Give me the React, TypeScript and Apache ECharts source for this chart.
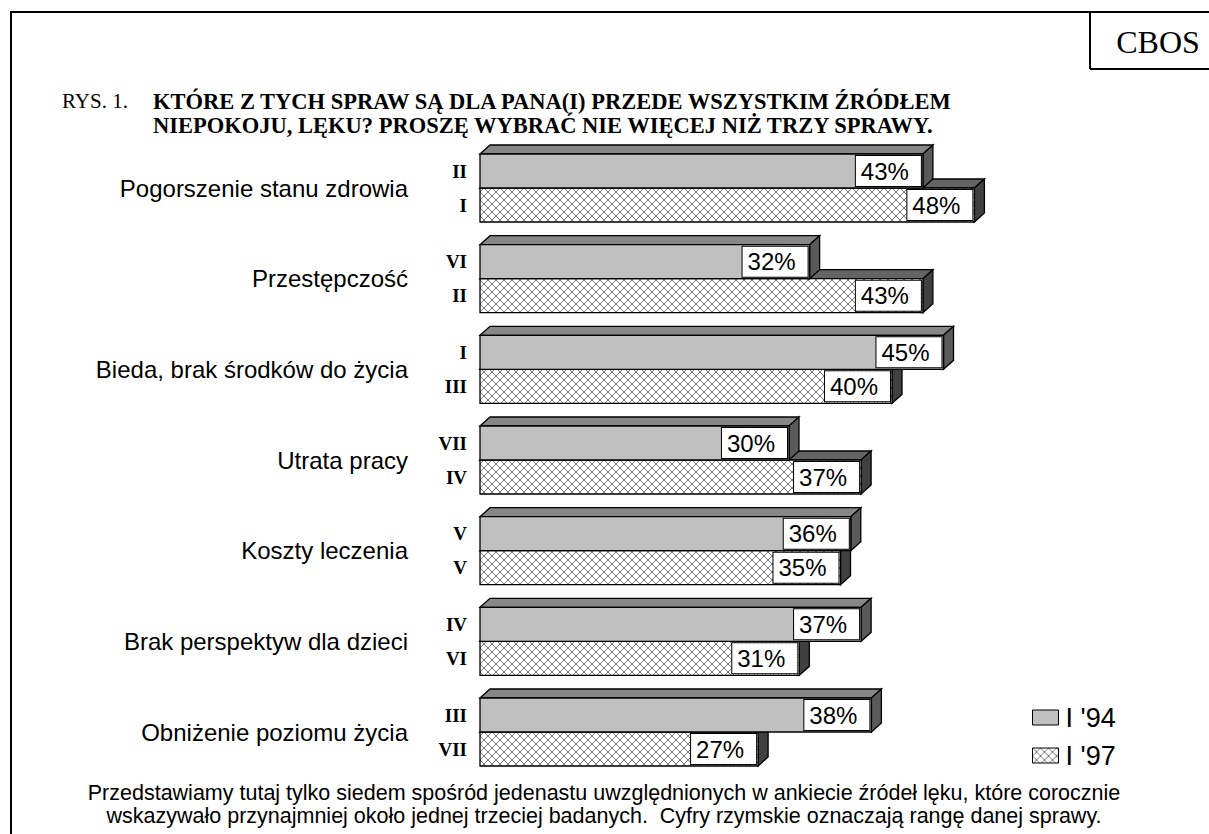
import React, { useEffect, useRef } from "react";
import * as echarts from "echarts";

const categories = [
  "Pogorszenie stanu zdrowia",
  "Przestępczość",
  "Bieda, brak środków do życia",
  "Utrata pracy",
  "Koszty leczenia",
  "Brak perspektyw dla dzieci",
  "Obniżenie poziomu życia",
];
const values94 = [43, 32, 45, 30, 36, 37, 38];
const values97 = [48, 43, 40, 37, 35, 31, 27];
const ranks94 = ["II", "VI", "I", "VII", "V", "IV", "III"];
const ranks97 = ["I", "II", "III", "IV", "V", "VI", "VII"];
const seriesNames = ["I '94", "I '97"];

const titlePrefix = "RYS. 1.";
const titleLines = [
  "KTÓRE Z TYCH SPRAW SĄ DLA PANA(I) PRZEDE WSZYSTKIM ŹRÓDŁEM",
  "NIEPOKOJU, LĘKU? PROSZĘ WYBRAĆ NIE WIĘCEJ NIŻ TRZY SPRAWY.",
];
const footerLines = [
  "Przedstawiamy tutaj tylko siedem spośród jedenastu uwzględnionych w ankiecie źródeł lęku, które corocznie",
  "wskazywało przynajmniej około jednej trzeciej badanych.  Cyfry rzymskie oznaczają rangę danej sprawy.",
];

function makeHatch(): HTMLCanvasElement {
  const c = document.createElement("canvas");
  c.width = 8;
  c.height = 8;
  const ctx = c.getContext("2d")!;
  ctx.fillStyle = "#ffffff";
  ctx.fillRect(0, 0, 8, 8);
  ctx.fillStyle = "#7a7a7a";
  for (let i = 0; i < 8; i++) {
    ctx.fillRect(i, i, 1, 1);
    ctx.fillRect(7 - i, i, 1, 1);
  }
  return c;
}

export default function App() {
  const ref = useRef<HTMLDivElement>(null);
  useEffect(() => {
    if (!ref.current) return;
    const chart = echarts.init(ref.current, undefined, { renderer: "svg" });
    const hatch = { image: makeHatch(), repeat: "repeat", imageWidth: 8, imageHeight: 8 } as any;
    const BAR_H = 34;
    const DX = 10;
    const DY = 9;

    const makeRender = (isTop: boolean, ranks: string[], front: any, topC: string, sideC: string) =>
      (params: any, api: any) => {
        const cat = api.value(0);
        const val = api.value(1);
        const p0 = api.coord([0, cat]);
        const p1 = api.coord([val, cat]);
        const x0 = p0[0];
        const x1 = p1[0];
        const yc = p0[1];
        const yT = isTop ? yc - BAR_H : yc;
        const yB = isTop ? yc : yc + BAR_H;
        const stroke = { stroke: "#000", lineWidth: 1.3 };
        return {
          type: "group",
          children: [
            {
              type: "polygon",
              shape: { points: [[x0, yT], [x0 + DX, yT - DY], [x1 + DX, yT - DY], [x1, yT]] },
              style: { fill: topC, ...stroke },
            },
            {
              type: "polygon",
              shape: { points: [[x1, yT], [x1 + DX, yT - DY], [x1 + DX, yB - DY], [x1, yB]] },
              style: { fill: sideC, ...stroke },
            },
            {
              type: "rect",
              shape: { x: x0, y: yT, width: x1 - x0, height: yB - yT },
              style: { fill: front, ...stroke },
            },
            {
              type: "text",
              x: x0 - 13,
              y: (yT + yB) / 2,
              style: {
                text: ranks[params.dataIndex],
                fill: "#000",
                font: "bold 19px 'Liberation Serif', 'Times New Roman', serif",
                align: "right",
                verticalAlign: "middle",
              },
            },
            {
              type: "text",
              x: x1 - 2,
              y: (yT + yB) / 2,
              style: {
                text: val + "%",
                fill: "#000",
                font: "24px 'Liberation Sans', Arial, sans-serif",
                align: "right",
                verticalAlign: "middle",
                backgroundColor: "#fff",
                borderColor: "#000",
                borderWidth: 1,
                padding: [3, 12, 3, 5],
                lineHeight: 24,
              },
            },
          ],
        };
      };

    const serif = "'Liberation Serif', 'Times New Roman', serif";
    const sans = "'Liberation Sans', Arial, sans-serif";

    chart.setOption({
      animation: false,
      backgroundColor: "#fff",
      grid: { left: 480, top: 142.67, height: 634.67, width: 515 },
      xAxis: { type: "value", min: 0, max: 50, show: false },
      yAxis: {
        type: "category",
        data: categories,
        inverse: true,
        axisLine: { show: false },
        axisTick: { show: false },
        splitLine: { show: false },
        axisLabel: { margin: 72, fontSize: 24, fontFamily: sans, color: "#000" },
      },
      legend: {
        orient: "vertical",
        left: 1027,
        top: 699,
        itemWidth: 26,
        itemHeight: 15,
        itemGap: 11,
        textStyle: { fontSize: 27, fontFamily: sans, color: "#000", padding: [0, 0, 0, 2] },
        data: [
          { name: seriesNames[0], icon: "rect", itemStyle: { color: "#c0c0c0", borderColor: "#000", borderWidth: 1 } },
          { name: seriesNames[1], icon: "rect", itemStyle: { color: hatch, borderColor: "#000", borderWidth: 1 } },
        ],
        selectedMode: false,
      },
      series: [
        {
          name: seriesNames[1],
          type: "custom",
          encode: { x: 1, y: 0 },
          data: values97.map((v, i) => [i, v]),
          itemStyle: { color: hatch },
          renderItem: makeRender(false, ranks97, hatch, "#646464", "#404040"),
        },
        {
          name: seriesNames[0],
          type: "custom",
          encode: { x: 1, y: 0 },
          data: values94.map((v, i) => [i, v]),
          itemStyle: { color: "#c0c0c0" },
          renderItem: makeRender(true, ranks94, "#c0c0c0", "#878787", "#5a5a5a"),
        },
      ],
      graphic: [
        { type: "line", shape: { x1: 10, y1: 12, x2: 1209, y2: 12 }, style: { stroke: "#000", lineWidth: 2 } },
        { type: "line", shape: { x1: 11, y1: 12, x2: 11, y2: 834 }, style: { stroke: "#000", lineWidth: 2 } },
        { type: "line", shape: { x1: 1090, y1: 12, x2: 1090, y2: 69 }, style: { stroke: "#000", lineWidth: 2 } },
        { type: "line", shape: { x1: 1090, y1: 69, x2: 1209, y2: 69 }, style: { stroke: "#000", lineWidth: 2 } },
        {
          type: "text", x: 1158, y: 42,
          style: { text: "CBOS", font: `32px ${serif}`, fill: "#000", align: "center", verticalAlign: "middle" },
        },
        {
          type: "text", x: 62, y: 101,
          style: { text: titlePrefix, font: `21px ${serif}`, fill: "#000", align: "left", verticalAlign: "middle" },
        },
        {
          type: "text", x: 153, y: 101,
          style: { text: titleLines[0], font: `bold 22.5px ${serif}`, fill: "#000", align: "left", verticalAlign: "middle" },
        },
        {
          type: "text", x: 153, y: 125,
          style: { text: titleLines[1], font: `bold 22.5px ${serif}`, fill: "#000", align: "left", verticalAlign: "middle" },
        },
        {
          type: "text", x: 604, y: 793,
          style: { text: footerLines[0], font: `21.5px ${sans}`, fill: "#000", align: "center", verticalAlign: "middle" },
        },
        {
          type: "text", x: 604, y: 816,
          style: { text: footerLines[1], font: `21.5px ${sans}`, fill: "#000", align: "center", verticalAlign: "middle" },
        },
      ],
    });
    return () => chart.dispose();
  }, []);
  return (
    <div
      ref={ref}
      style={{ position: "fixed", left: 0, top: 0, width: 1209, height: 834, background: "#fff" }}
    />
  );
}
